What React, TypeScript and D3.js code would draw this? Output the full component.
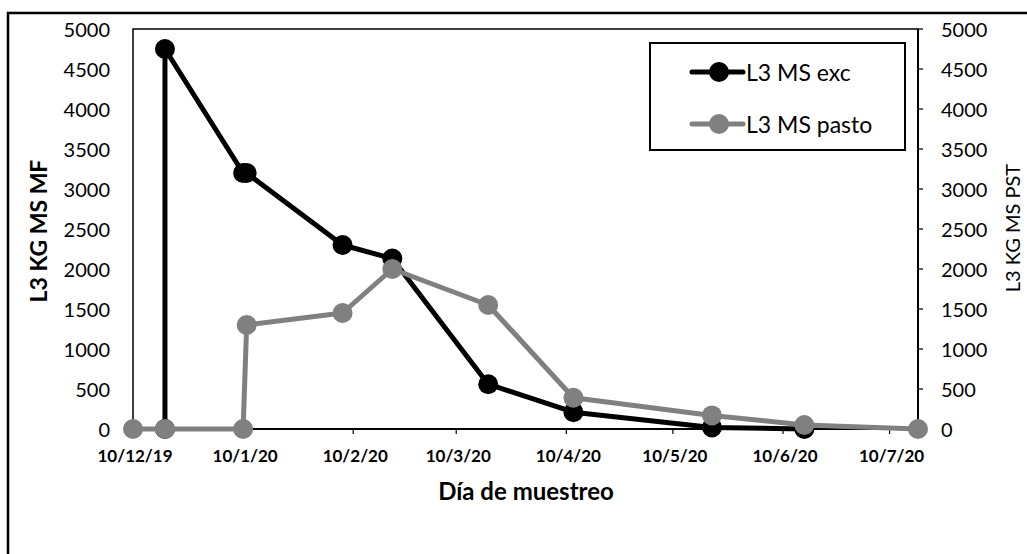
import React from "react";
import * as d3 from "d3";

// ---- data ----
const excDates = ["2019-12-19", "2019-12-19", "2020-01-10", "2020-01-11", "2020-02-07", "2020-02-21", "2020-03-19", "2020-04-12", "2020-05-21", "2020-06-16"];
const excValues = [0, 4750, 3200, 3200, 2300, 2130, 560, 210, 20, 0];

const pastoDates = ["2019-12-10", "2019-12-19", "2020-01-10", "2020-01-11", "2020-02-07", "2020-02-21", "2020-03-19", "2020-04-12", "2020-05-21", "2020-06-16", "2020-07-18"];
const pastoValues = [0, 0, 0, 1300, 1450, 2000, 1550, 390, 170, 50, 0];

const xTickDates = ["2019-12-10", "2020-01-10", "2020-02-10", "2020-03-10", "2020-04-10", "2020-05-10", "2020-06-10", "2020-07-10"];
const yTicks = [0, 500, 1000, 1500, 2000, 2500, 3000, 3500, 4000, 4500, 5000];

const seriesNames = ["L3 MS exc", "L3 MS pasto"];
const xDomain = ["2019-12-10", "2020-07-18"];
const yDomain = [0, 5000];

const FONT = "Lato, 'Open Sans', sans-serif";
const BLACK = "#000000";
const GRAY = "#808080";

export default function App() {
  const parse = d3.timeParse("%Y-%m-%d");
  const fmt = d3.timeFormat("%-d/%-m/%y");
  const left = 133, right = 918, top = 29, bottom = 429;

  const x = d3.scaleTime().domain(xDomain.map((d) => parse(d) as Date)).range([left, right]);
  const yL = d3.scaleLinear().domain(yDomain).range([bottom, top]);
  const yR = d3.scaleLinear().domain(yDomain).range([bottom, top]);

  const exc = excDates.map((d, i) => ({ x: x(parse(d) as Date), y: yL(excValues[i]) }));
  const pasto = pastoDates.map((d, i) => ({ x: x(parse(d) as Date), y: yR(pastoValues[i]) }));

  const line = d3.line<{ x: number; y: number }>().x((d) => d.x).y((d) => d.y);

  const legendItems = [
    { name: seriesNames[0], color: BLACK, y: 72 },
    { name: seriesNames[1], color: GRAY, y: 124 },
  ];

  return (
    <svg
      width={1027}
      height={554}
      style={{ position: "absolute", left: 0, top: 0, background: "#fff" }}
      fontFamily={FONT}
    >
      <rect x={0} y={0} width={1027} height={554} fill="#fff" />
      {/* outer frame */}
      <rect x={8} y={13} width={1040} height={560} fill="none" stroke="#000" strokeWidth={2.5} />

      {/* plot area border */}
      <rect x={left} y={top} width={right - left} height={bottom - top} fill="none" stroke="#000" strokeWidth={1.5} />
      {/* x axis line */}
      <line x1={left} x2={right} y1={bottom} y2={bottom} stroke="#000" strokeWidth={2} />
      {/* right axis line */}
      <line x1={right} x2={right} y1={top} y2={bottom} stroke="#000" strokeWidth={2} />

      {/* x ticks */}
      {xTickDates.map((d) => {
        const xx = x(parse(d) as Date);
        return (
          <g key={d}>
            <line x1={xx} x2={xx} y1={bottom} y2={bottom + 5} stroke="#000" strokeWidth={1.2} />
            <text x={xx + 2} y={455} textAnchor="middle" dominantBaseline="central" fontSize={17} fontWeight="bold">
              {fmt(parse(d) as Date)}
            </text>
          </g>
        );
      })}

      {/* left y tick labels */}
      {yTicks.map((t) => (
        <text key={"l" + t} x={110} y={yL(t)} textAnchor="end" dominantBaseline="central" fontSize={20}>
          {t}
        </text>
      ))}
      {/* right y ticks + labels */}
      {yTicks.map((t) => (
        <g key={"r" + t}>
          <line x1={right} x2={right + 5} y1={yR(t)} y2={yR(t)} stroke="#000" strokeWidth={1.2} />
          <text x={941} y={yR(t)} textAnchor="start" dominantBaseline="central" fontSize={20}>
            {t}
          </text>
        </g>
      ))}

      {/* axis titles */}
      <text x={526} y={490} textAnchor="middle" dominantBaseline="central" fontSize={24} fontWeight="bold">
        Día de muestreo
      </text>
      <text transform="translate(38,231) rotate(-90)" textAnchor="middle" dominantBaseline="central" fontSize={23} fontWeight="bold">
        L3 KG MS MF
      </text>
      <text transform="translate(1012,228) rotate(-90)" textAnchor="middle" dominantBaseline="central" fontSize={20}>
        L3 KG MS PST
      </text>

      {/* series: black first, gray on top */}
      <path d={line(exc) || ""} fill="none" stroke={BLACK} strokeWidth={5} strokeLinejoin="round" />
      {exc.map((p, i) => (
        <circle key={"e" + i} cx={p.x} cy={p.y} r={10} fill={BLACK} />
      ))}
      <path d={line(pasto) || ""} fill="none" stroke={GRAY} strokeWidth={5} strokeLinejoin="round" />
      {pasto.map((p, i) => (
        <circle key={"p" + i} cx={p.x} cy={p.y} r={10} fill={GRAY} />
      ))}

      {/* legend */}
      <rect x={650} y={43} width={255} height={107} fill="#fff" stroke="#000" strokeWidth={2} />
      {legendItems.map((it) => (
        <g key={it.name}>
          <line x1={692} x2={743} y1={it.y} y2={it.y} stroke={it.color} strokeWidth={5} strokeLinecap="round" />
          <circle cx={719} cy={it.y} r={10} fill={it.color} />
          <text x={746} y={it.y} dominantBaseline="central" fontSize={23}>
            {it.name}
          </text>
        </g>
      ))}
    </svg>
  );
}
